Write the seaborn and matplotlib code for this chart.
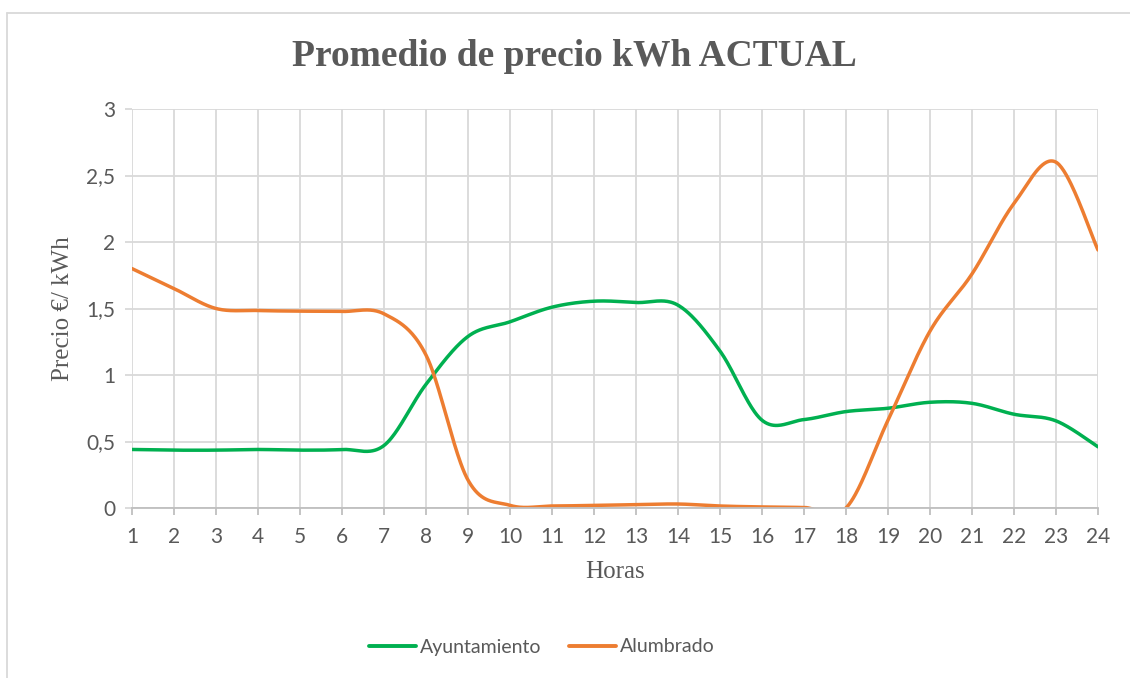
import numpy as np
import pandas as pd
import matplotlib
matplotlib.use("Agg")
import matplotlib.pyplot as plt
from matplotlib.lines import Line2D
import seaborn as sns

# Hourly average price per kWh
horas = list(range(1, 25))
ayuntamiento = [0.44, 0.435, 0.435, 0.44, 0.435, 0.44, 0.47, 0.93, 1.29, 1.40,
                1.51, 1.555, 1.545, 1.525, 1.18, 0.66, 0.665, 0.725, 0.75, 0.795,
                0.787, 0.705, 0.655, 0.46]
alumbrado = [1.80, 1.65, 1.50, 1.485, 1.48, 1.478, 1.46, 1.15, 0.21, 0.02,
             0.015, 0.02, 0.025, 0.03, 0.015, 0.008, 0.004, 0.0, 0.66, 1.33,
             1.76, 2.29, 2.60, 1.94]
series_names = ["Ayuntamiento", "Alumbrado"]
colors = ["#00B050", "#ED7D31"]
y_ticks = [0, 0.5, 1, 1.5, 2, 2.5, 3]
y_ticklabels = ["0", "0,5", "1", "1,5", "2", "2,5", "3"]


def smooth(x, y, n=40):
    """Catmull-Rom style Bezier smoothing between consecutive points."""
    x = np.asarray(x, float)
    y = np.asarray(y, float)
    px = np.concatenate([[x[0]], x, [x[-1]]])
    py = np.concatenate([[y[0]], y, [y[-1]]])
    xs, ys = [], []
    t = np.linspace(0, 1, n, endpoint=False)
    for i in range(1, len(px) - 2):
        p0 = np.array([px[i], py[i]])
        p3 = np.array([px[i + 1], py[i + 1]])
        p1 = p0 + (p3 - np.array([px[i - 1], py[i - 1]])) / 6
        p2 = p3 - (np.array([px[i + 2], py[i + 2]]) - p0) / 6
        b = ((1 - t) ** 3)[:, None] * p0 + (3 * (1 - t) ** 2 * t)[:, None] * p1 \
            + (3 * (1 - t) * t ** 2)[:, None] * p2 + (t ** 3)[:, None] * p3
        xs.append(b[:, 0])
        ys.append(b[:, 1])
    xs.append([x[-1]])
    ys.append([y[-1]])
    return np.concatenate(xs), np.concatenate(ys)


frames = []
for name, vals in zip(series_names, [ayuntamiento, alumbrado]):
    sx, sy = smooth(horas, vals)
    frames.append(pd.DataFrame({"Horas": sx, "Precio": sy, "Serie": name}))
df = pd.concat(frames, ignore_index=True)

sns.set_theme(style="white")
plt.rcParams["font.family"] = ["Lato", "DejaVu Sans"]

W, H = 1130, 678
fig = plt.figure(figsize=(W / 100, H / 100), dpi=100)
ax = fig.add_axes([132 / W, 1 - 508 / H, (1098 - 132) / W, (508 - 109) / H])

sns.lineplot(data=df, x="Horas", y="Precio", hue="Serie", estimator=None,
             sort=False, palette=dict(zip(series_names, colors)),
             linewidth=2.5, ax=ax, legend=False)
for line in ax.lines:
    line.set_solid_capstyle("round")

ax.set_xlim(1, 24)
ax.set_ylim(0, 3)
ax.set_xticks(horas)
ax.set_xticklabels([str(h) for h in horas])
ax.set_yticks(y_ticks)
ax.set_yticklabels(y_ticklabels)

grid_c = "#D9D9D9"
ax.grid(True, color=grid_c, linewidth=1.3)
ax.set_axisbelow(True)
for s in ["top", "right", "left"]:
    ax.spines[s].set_visible(False)
ax.spines["bottom"].set_color("#BFBFBF")
ax.spines["bottom"].set_linewidth(1.3)
ax.tick_params(axis="x", which="major", bottom=True, length=5, width=1.3,
               color="#BFBFBF", labelsize=15, labelcolor="#595959", pad=9)
ax.tick_params(axis="y", which="major", left=True, length=5, width=1.3,
               color=grid_c, labelsize=15, labelcolor="#595959", pad=7)

ax.set_xlabel("Horas", family="Liberation Serif", fontsize=18, color="#595959",
              labelpad=10)
ax.set_ylabel("Precio €/ kWh", family="Liberation Serif", fontsize=18,
              color="#595959", labelpad=9)

fig.text(574 / W, 1 - 56 / H, "Promedio de precio kWh ACTUAL",
         family="Liberation Serif", fontweight="bold", fontsize=27,
         color="#595959", ha="center", va="center")

handles = [Line2D([0], [0], color=c, linewidth=2.8) for c in colors]
fig.legend(handles, series_names, loc="center", bbox_to_anchor=(542 / W, 1 - 647 / H),
           ncol=2, frameon=False, fontsize=14, labelcolor="#595959",
           handlelength=2.4, handletextpad=0.2, columnspacing=1.45)

# chart border
fig.add_artist(Line2D([7 / W, 1], [1 - 13 / H, 1 - 13 / H], color="#D9D9D9",
                      linewidth=1.3, transform=fig.transFigure))
fig.add_artist(Line2D([7 / W, 7 / W], [0, 1 - 13 / H], color="#D9D9D9",
                      linewidth=1.3, transform=fig.transFigure))

fig.savefig("out.png", dpi=100)
